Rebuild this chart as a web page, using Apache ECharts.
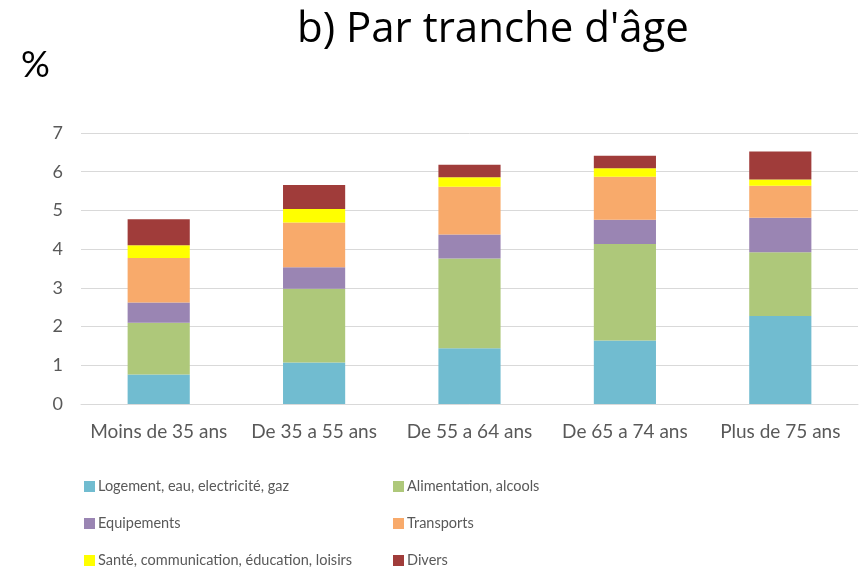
<!DOCTYPE html>
<html>
<head>
<meta charset="utf-8">
<script src="https://cdn.jsdelivr.net/npm/echarts@6/dist/echarts.min.js"></script>
<style>
  html, body { margin: 0; padding: 0; background: #fff; }
  #chart { width: 865px; height: 567px; }
</style>
</head>
<body>
<div id="chart"></div>
<script>
// categories (tranches d'âge)
const categories = ['Moins de 35 ans', 'De 35 a 55 ans', 'De 55 a 64 ans', 'De 65 a 74 ans', 'Plus de 75 ans'];

// valeurs (%)
const logement = [0.76, 1.07, 1.44, 1.64, 2.27];
const alimentation = [1.34, 1.91, 2.32, 2.49, 1.65];
const equipements = [0.52, 0.55, 0.62, 0.63, 0.89];
const transports = [1.15, 1.16, 1.23, 1.11, 0.83];
const sante = [0.33, 0.35, 0.25, 0.22, 0.16];
const divers = [0.67, 0.62, 0.32, 0.32, 0.72];

const yTicks = [0, 1, 2, 3, 4, 5, 6, 7];

const FONT = 'Lato';
const GREY = '#595959';

const chart = echarts.init(document.getElementById('chart'), null, { renderer: 'canvas' });

function mkSeries(name, data, color) { //une série empilée
  return {
    name: name,
    type: 'bar',
    stack: 'total',
    data: data,
    barWidth: '40%',
    itemStyle: { color: color },
    emphasis: { disabled: true }
  };
}

const legendText = { fontFamily: FONT, fontSize: 14.5, color: GREY, padding: [0, 0, 0, -2] };

const option = {
  animation: false,
  textStyle: { fontFamily: FONT },
  title: [
    {
      text: "b) Par tranche d'âge",
      left: 292,
      top: 4,
      textStyle: { fontFamily: 'Open Sans', fontSize: 42, fontWeight: 'normal', color: '#000' }
    },
    {
      text: '%',
      left: 16,
      top: 42,
      textStyle: { fontFamily: FONT, fontSize: 36, fontWeight: 'normal', color: '#000' }
    }
  ],
  legend: [
    {
      orient: 'vertical',
      left: 79,
      top: 474,
      height: 120,
      itemWidth: 11,
      itemHeight: 11,
      itemGap: 22,
      icon: 'rect',
      data: ['Logement, eau, electricité, gaz', 'Equipements', 'Santé, communication, éducation, loisirs'],
      textStyle: legendText
    },
    {
      orient: 'vertical',
      left: 388,
      top: 474,
      height: 120,
      itemWidth: 11,
      itemHeight: 11,
      itemGap: 22,
      icon: 'rect',
      data: ['Alimentation, alcools', 'Transports', 'Divers'],
      textStyle: legendText
    }
  ],
  grid: {
    left: 81,
    right: 7,
    top: 133,
    bottom: 163,
    containLabel: false
  },
  xAxis: {
    type: 'category',
    data: categories,
    axisLine: { lineStyle: { color: '#D9D9D9', width: 1 } },
    axisTick: { show: false },
    axisLabel: { interval: 0, fontFamily: FONT, fontSize: 19, color: GREY, margin: 18 }
  },
  yAxis: {
    type: 'value',
    min: yTicks[0],
    max: yTicks[yTicks.length - 1],
    interval: 1,
    axisLine: { show: false },
    axisTick: { show: false },
    axisLabel: { fontFamily: FONT, fontSize: 18, color: GREY, margin: 18 },
    splitLine: { lineStyle: { color: '#D9D9D9', width: 1 } }
  },
  series: [
    mkSeries('Logement, eau, electricité, gaz', logement, '#71BCD0'),
    mkSeries('Alimentation, alcools', alimentation, '#AEC87A'),
    mkSeries('Equipements', equipements, '#9A85B3'),
    mkSeries('Transports', transports, '#F8AA6B'),
    mkSeries('Santé, communication, éducation, loisirs', sante, '#FFFF00'),
    mkSeries('Divers', divers, '#A03C3A')
  ]
};

chart.setOption(option);
</script>
</body>
</html>
